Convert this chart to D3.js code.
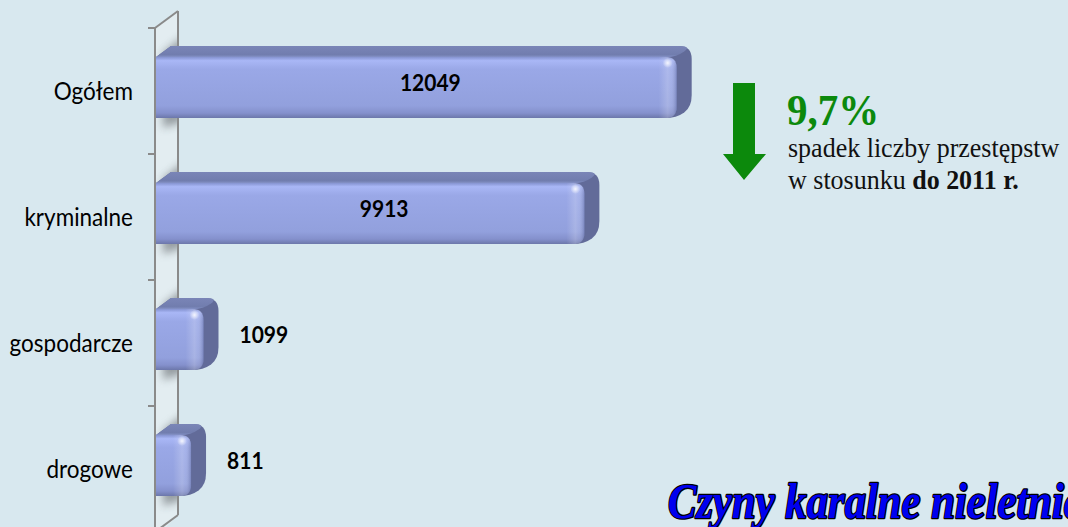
<!DOCTYPE html>
<html>
<head>
<meta charset="utf-8">
<script src="https://cdn.jsdelivr.net/npm/d3@7"></script>
<style>
  body { margin: 0; background: #d8e8ef; }
  svg { display: block; }
</style>
</head>
<body>
<div id="chart"></div>
<script>
const categories = ["Ogółem", "kryminalne", "gospodarcze", "drogowe"];
const values = [12049, 9913, 1099, 811];
const changeValue = "9,7%";
const noteLine1 = "spadek liczby przestępstw";
const noteLine2a = "w stosunku ";
const noteLine2b = "do 2011 r.";
const titleText = "Czyny karalne nieletnich";

const W = 1068, H = 527;
const depthX = 15, depthY = -11;

const svg = d3.select("#chart")
    .append("svg")
    .attr("width", W)
    .attr("height", H);

const defs = svg.append("defs");

const x = d3.scaleLinear()
    .domain([0, 14000])
    .range([156, 761]);

const y = d3.scaleBand()
    .domain(categories)
    .range([28, 532]);

const wallFront = 155, wallBack = 178;

// helper: polygon with rounded corners (quadratic)
function roundedPath(pts, radii) {
    const p = d3.path();
    const n = pts.length;
    for (let i = 0; i < n; i++) {
        const prev = pts[(i - 1 + n) % n], cur = pts[i], next = pts[(i + 1) % n];
        const r = radii[i];
        const d1 = Math.hypot(prev[0] - cur[0], prev[1] - cur[1]);
        const d2 = Math.hypot(next[0] - cur[0], next[1] - cur[1]);
        const a = [cur[0] + (prev[0] - cur[0]) * Math.min(r / d1, 0.5), cur[1] + (prev[1] - cur[1]) * Math.min(r / d1, 0.5)];
        const b = [cur[0] + (next[0] - cur[0]) * Math.min(r / d2, 0.5), cur[1] + (next[1] - cur[1]) * Math.min(r / d2, 0.5)];
        if (i === 0) p.moveTo(a[0], a[1]); else p.lineTo(a[0], a[1]);
        p.quadraticCurveTo(cur[0], cur[1], b[0], b[1]);
    }
    p.closePath();
    return p.toString();
}

// gradients
const frontGrad = defs.append("linearGradient")
    .attr("id", "frontGrad")
    .attr("x1", 0).attr("y1", 0).attr("x2", 0).attr("y2", 1);
[[0, "#8593d0"], [0.06, "#a9b7f6"], [0.2, "#9aa8e7"], [0.8, "#92a0dd"], [0.92, "#8490cc"], [1, "#6c77aa"]]
    .forEach(s => frontGrad.append("stop").attr("offset", s[0]).attr("stop-color", s[1]));

const topGrad = defs.append("linearGradient")
    .attr("id", "topGrad")
    .attr("x1", 0).attr("y1", 0).attr("x2", 0).attr("y2", 1);
[[0, "#7a85b7"], [0.8, "#717dae"], [1, "#8592c8"]]
    .forEach(s => topGrad.append("stop").attr("offset", s[0]).attr("stop-color", s[1]));

defs.append("filter")
    .attr("id", "blur")
    .attr("x", "-50%").attr("y", "-50%").attr("width", "200%").attr("height", "200%")
    .append("feGaussianBlur")
    .attr("stdDeviation", 4);

// axis wall
const wallPts = [[wallFront, 28], [wallBack, 11], [wallBack, 515], [wallFront, 538]];
defs.append("clipPath")
    .attr("id", "wallClip")
    .append("path")
    .attr("d", d3.line()(wallPts) + "Z");

svg.append("path")
    .attr("d", d3.line()(wallPts) + "Z")
    .attr("fill", "#e3edf1");

const wallShadow = svg.append("g")
    .attr("clip-path", "url(#wallClip)");

categories.forEach(function (c, i) {
    const cy = y(c) + y.bandwidth() / 2;
    const y0 = cy - 34, y1 = cy + 27;
    wallShadow.append("path")
        .attr("d", d3.line()([[wallFront + 8, y0 - 4], [wallBack + 6, y0 + depthY - 10], [wallBack + 6, y1 + depthY + 14], [wallFront + 8, y1 + 10]]) + "Z")
        .attr("fill", "#6a6f73")
        .attr("opacity", 0.65)
        .attr("filter", "url(#blur)");
});

svg.append("g")
    .attr("fill", "none")
    .attr("stroke", "#8a8a8a")
    .attr("stroke-width", 2)
    .selectAll("path")
    .data([
        [[wallFront, 28], [wallFront, 540]],
        [[wallBack, 11], [wallBack, 515]],
        [[wallFront, 28], [wallBack, 11]],
        [[wallBack, 515], [wallFront, 532]]
    ])
    .join("path")
    .attr("d", d => d3.line()(d));

// ticks at band edges
const tickYs = categories.map(c => y(c)).concat([y.range()[1]]);
svg.append("g")
    .attr("stroke", "#8a8a8a")
    .attr("stroke-width", 2)
    .selectAll("line")
    .data(tickYs)
    .join("line")
    .attr("x1", wallFront - 7)
    .attr("x2", wallFront)
    .attr("y1", d => d)
    .attr("y2", d => d);

// category labels
svg.append("g")
    .selectAll("text")
    .data(categories)
    .join("text")
    .attr("transform", d => "translate(133," + (y(d) + y.bandwidth() / 2) + ") scale(1,1.08)")
    .attr("dy", "0.36em")
    .attr("text-anchor", "end")
    .style("font-family", "Lato, 'Open Sans', sans-serif")
    .style("font-size", "22.5px")
    .style("fill", "#000")
    .text(d => d);

// bars
const barData = categories.map((c, i) => ({cat: c, value: values[i]}));
const bars = svg.append("g")
    .selectAll("g")
    .data(barData)
    .join("g");

bars.each(function (d, i) {
    const g = d3.select(this);
    const cy = y(d.cat) + y.bandwidth() / 2;
    const x0 = x(0), x1 = x(d.value);
    const y0 = cy - 34, y1 = cy + 27;

    // hull (side colour)
    g.append("path")
        .attr("d", roundedPath([
            [x0, y0], [x0 + depthX, y0 + depthY], [x1 + depthX, y0 + depthY],
            [x1 + depthX, y1 + depthY], [x1, y1], [x0, y1]
        ], [0, 0, 13, 12, 12, 0]))
        .attr("fill", "#626b99");

    // top face
    g.append("path")
        .attr("d", roundedPath([
            [x0, y0], [x0 + depthX, y0 + depthY], [x1 + depthX, y0 + depthY], [x1, y0]
        ], [0, 0, 13, 11]))
        .attr("fill", "url(#topGrad)");

    // front face
    g.append("path")
        .attr("d", roundedPath([[x0, y0], [x1, y0], [x1, y1], [x0, y1]], [0, 11, 11, 0]))
        .attr("fill", "url(#frontGrad)");

    // right edge shading of the front face
    const edgeGrad = defs.append("linearGradient")
        .attr("id", "edge" + i)
        .attr("gradientUnits", "userSpaceOnUse")
        .attr("x1", x1 - 18).attr("x2", x1)
        .attr("y1", 0).attr("y2", 0);
    [[0, "#ffffff", 0], [0.5, "#ffffff", 0.2], [0.7, "#ffffff", 0.12], [1, "#3c4470", 0.3]]
        .forEach(s => edgeGrad.append("stop").attr("offset", s[0]).attr("stop-color", s[1]).attr("stop-opacity", s[2]));
    g.append("path")
        .attr("d", roundedPath([[x1 - 18, y0], [x1, y0], [x1, y1], [x1 - 18, y1]], [0, 11, 11, 0]))
        .attr("fill", "url(#edge" + i + ")");

    // highlight spot
    const spot = defs.append("radialGradient").attr("id", "spot" + i);
    spot.append("stop").attr("offset", 0).attr("stop-color", "#fff").attr("stop-opacity", 0.85);
    spot.append("stop").attr("offset", 1).attr("stop-color", "#fff").attr("stop-opacity", 0);
    g.append("circle")
        .attr("cx", x1 - 9)
        .attr("cy", y0 + 6)
        .attr("r", 5)
        .attr("fill", "url(#spot" + i + ")");
});

// value labels
svg.append("g")
    .selectAll("text")
    .data(barData)
    .join("text")
    .attr("transform", function (d) {
        const cy = y(d.cat) + y.bandwidth() / 2 - 8;
        const inside = d.value > 5000;
        const lx = inside ? x(d.value / 2) + 14 : x(d.value) + 36;
        return "translate(" + lx + "," + cy + ") scale(1,1.08)";
    })
    .attr("dy", "0.36em")
    .attr("text-anchor", d => d.value > 5000 ? "middle" : "start")
    .style("font-family", "Lato, 'Open Sans', sans-serif")
    .style("font-weight", "bold")
    .style("font-size", "21px")
    .style("fill", "#000")
    .text(d => d.value);

// change annotation
const green = "#0c890c";
svg.append("path")
    .attr("d", d3.line()([[733, 83], [755, 83], [755, 154], [766, 154], [744, 180], [723, 154], [733, 154]]) + "Z")
    .attr("fill", green);

svg.append("text")
    .attr("transform", "translate(787,125) scale(1,1.1)")
    .style("font-family", "'Liberation Serif', 'Times New Roman', serif")
    .style("font-weight", "bold")
    .style("font-size", "41px")
    .style("fill", green)
    .text(changeValue);

const note = svg.append("g")
    .style("font-family", "'Liberation Serif', 'Times New Roman', serif")
    .style("font-size", "26px")
    .style("fill", "#111");

note.append("text")
    .attr("transform", "translate(788,157) scale(1,1.08)")
    .text(noteLine1);

const l2 = note.append("text")
    .attr("transform", "translate(788,189) scale(1,1.08)");
l2.append("tspan").text(noteLine2a);
l2.append("tspan").style("font-weight", "bold").text(noteLine2b);

// title (runs past the right edge, as in the source)
svg.append("text")
    .attr("transform", "translate(668,518) scale(0.97,1.14)")
    .style("font-family", "'Liberation Serif', 'Times New Roman', serif")
    .style("font-weight", "bold")
    .style("font-style", "italic")
    .style("font-size", "44px")
    .style("fill", "#0000f0")
    .style("stroke", "#000")
    .style("stroke-width", "2.3px")
    .style("paint-order", "stroke fill")
    .style("stroke-linejoin", "round")
    .text(titleText);
</script>
</body>
</html>
